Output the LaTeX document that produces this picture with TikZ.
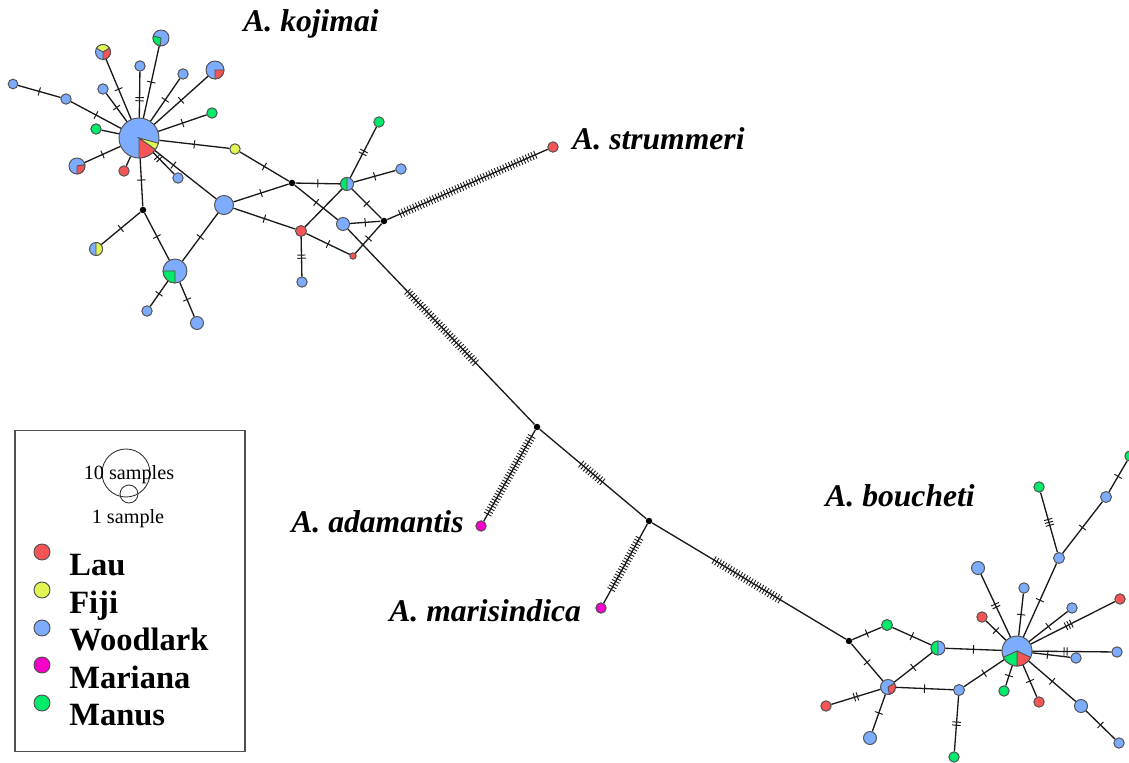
\documentclass[tikz,border=0pt]{standalone}
\usepackage{fontspec}
\setmainfont{Liberation Serif}
\usetikzlibrary{decorations.markings}
\definecolor{laured}{RGB}{245, 85, 85}
\definecolor{fijiyellow}{RGB}{225, 245, 85}
\definecolor{woodblue}{RGB}{125, 172, 255}
\definecolor{marimagenta}{RGB}{245, 0, 200}
\definecolor{manusgreen}{RGB}{0, 235, 105}
\definecolor{edgegray}{RGB}{80, 80, 80}
% pie slice of a haplotype: node, colour, start angle, end angle, radius
\newcommand{\hapslice}[5]{\filldraw[fill=#2, draw=edgegray, line width=0.5pt] (#1.center) -- ++(#3:#5) arc[start angle=#3, end angle=#4, radius=#5] -- cycle;}

\begin{document}
\begin{tikzpicture}[x=0.02cm, y=-0.02cm,
  hap/.style={circle, draw=edgegray, line width=0.55pt, inner sep=0pt, minimum size=#1*0.04cm},
  junc/.style={circle, fill=black, inner sep=0pt, minimum size=0.13cm},
  link/.style={line width=0.75pt, black!90},
  mut/.style={postaction={decorate, decoration={markings, mark=at position #1 with {\draw[line width=0.55pt] (0,-2.4pt) -- (0,2.4pt);}}}},
  mut/.default=0.5,
  mutt/.style={postaction={decorate, decoration={markings, mark=at position #1 with {\draw[line width=0.55pt] (-0.9pt,-2.4pt) -- (-0.9pt,2.4pt) (0.9pt,-2.4pt) -- (0.9pt,2.4pt);}}}},
  mutt/.default=0.5,
  muttt/.style={postaction={decorate, decoration={markings, mark=at position #1 with {\draw[line width=0.55pt] (-1.7pt,-2.4pt) -- (-1.7pt,2.4pt) (0,-2.4pt) -- (0,2.4pt) (1.7pt,-2.4pt) -- (1.7pt,2.4pt);}}}},
  muttt/.default=0.5,
  mutrun/.style 2 args={postaction={decorate, decoration={markings, mark=between positions #1 and #2 step 1.75pt with {\draw[line width=0.5pt] (0,-2.4pt) -- (0,2.4pt);}}}},
  species/.style={font=\fontsize{18}{20}\selectfont\bfseries\itshape, anchor=base west, inner sep=0pt},
  legendtext/.style={font=\fontsize{18.5}{20}\selectfont\bfseries, anchor=base west, inner sep=0pt},
]
\useasboundingbox[fill=white] (0,0) rectangle (1129,763);

% A. kojimai cluster
\node[hap=20, fill=woodblue] (kc) at (139,138) {};
\node[hap=4.8, fill=woodblue] (k1) at (13,84) {};
\node[hap=5.2, fill=woodblue] (k2) at (66,99) {};
\node[hap=7.5, fill=woodblue] (k3) at (103,52) {};
\node[hap=5.2, fill=woodblue] (k4) at (103,89) {};
\node[hap=5.2, fill=woodblue] (k5) at (140,66) {};
\node[hap=8, fill=woodblue] (k6) at (161,38) {};
\node[hap=5.2, fill=woodblue] (k7) at (183,74) {};
\node[hap=9, fill=woodblue] (k8) at (215,70) {};
\node[hap=5.2, fill=manusgreen] (k9) at (212,113) {};
\node[hap=5.2, fill=manusgreen] (k10) at (96,129) {};
\node[hap=5.2, fill=fijiyellow] (k11) at (235,149) {};
\node[hap=8, fill=woodblue] (k12) at (77,166) {};
\node[hap=5.2, fill=laured] (k13) at (124,171) {};
\node[hap=5.2, fill=woodblue] (k14) at (178,178) {};
\node[hap=9.5, fill=woodblue] (kb1) at (224,205) {};
\node[junc] (j1) at (143,210) {};
\node[hap=6.5, fill=woodblue] (k15) at (96,249) {};
\node[hap=12, fill=woodblue] (kb2) at (175,271) {};
\node[hap=5.2, fill=woodblue] (k16) at (147,311) {};
\node[hap=6.5, fill=woodblue] (k17) at (197,323) {};
\node[junc] (j2) at (292,183) {};
\node[hap=5.5, fill=laured] (kr1) at (301,231) {};
\node[hap=6.5, fill=woodblue] (k18) at (347,184) {};
\node[hap=6.5, fill=woodblue] (k19) at (343,224) {};
\node[hap=5.2, fill=woodblue] (k20) at (302,282) {};
\node[hap=3.2, fill=laured] (k21) at (353,256) {};
\node[junc] (j3) at (384,221) {};
\node[hap=5.2, fill=woodblue] (k22) at (401,169) {};
\node[hap=5.2, fill=manusgreen] (k23) at (379,122) {};

\hapslice{kc}{laured}{35}{90}{20}
\hapslice{kc}{fijiyellow}{15}{35}{20}
\hapslice{k3}{fijiyellow}{210}{330}{7.5}
\hapslice{k3}{laured}{330}{450}{7.5}
\hapslice{k6}{manusgreen}{95}{195}{8}
\hapslice{k8}{laured}{0}{90}{9}
\hapslice{k12}{laured}{-10}{90}{8}
\hapslice{k15}{fijiyellow}{-90}{90}{6.5}
\hapslice{kb2}{manusgreen}{90}{180}{12}
\hapslice{k18}{manusgreen}{90}{270}{6.5}

\draw[link, mut] (k1) -- (k2);
\draw[link, mut] (k2) -- (kc);
\draw[link, mut] (k3) -- (kc);
\draw[link, mut] (k4) -- (kc);
\draw[link, mutt=0.6] (k5) -- (kc);
\draw[link, mut] (k6) -- (kc);
\draw[link, mut] (k7) -- (kc);
\draw[link, mut] (k8) -- (kc);
\draw[link, mut] (k9) -- (kc);
\draw[link] (k10) -- (kc);
\draw[link, mut] (k11) -- (kc);
\draw[link, mut] (k12) -- (kc);
\draw[link] (k13) -- (kc);
\draw[link, mutt=0.25] (kc) -- (k14);
\draw[link, mut=0.3] (kc) -- (kb1);
\draw[link, mut=0.45] (kc) -- (j1);
\draw[link, mut] (j1) -- (k15);
\draw[link, mut] (j1) -- (kb2);
\draw[link, mut] (kb2) -- (k16);
\draw[link, mut] (kb2) -- (k17);
\draw[link, mut] (kb2) -- (kb1);
\draw[link, mut] (kb1) -- (j2);
\draw[link, mut] (kb1) -- (kr1);
\draw[link, mut] (k11) -- (j2);
\draw[link, mut] (j2) -- (k18);
\draw[link, mut] (j2) -- (k19);
\draw[link] (kr1) -- (k18);
\draw[link, mutt] (kr1) -- (k20);
\draw[link, mut] (kr1) -- (k21);
\draw[link, mut] (k21) -- (j3);
\draw[link, mut] (k19) -- (j3);
\draw[link, mut] (k18) -- (j3);
\draw[link, mut] (k18) -- (k22);
\draw[link, mutt] (k18) -- (k23);

% outgroups and long branches
\node[hap=5.2, fill=laured] (st) at (553,147) {};
\node[junc] (j4) at (537,427) {};
\node[hap=5.2, fill=marimagenta] (ad) at (481,526) {};
\node[junc] (j5) at (649,521) {};
\node[hap=5.2, fill=marimagenta] (ma) at (601,608) {};
\node[junc] (j6) at (849,641) {};

\draw[link, mutrun={0.08}{0.94}] (j3) -- (st);
\draw[link, mutrun={0.32}{0.69}] (k19) -- (j4);
\draw[link, mutrun={0.07}{0.95}] (j4) -- (ad);
\draw[link, mutrun={0.39}{0.61}] (j4) -- (j5);
\draw[link, mutrun={0.18}{0.84}] (j5) -- (ma);
\draw[link, mutrun={0.32}{0.67}] (j5) -- (j6);

% A. boucheti cluster
\node[hap=15, fill=woodblue] (bc) at (1017,651) {};
\node[hap=5.5, fill=manusgreen] (b1) at (887,625) {};
\node[hap=7, fill=woodblue] (b2) at (938,648) {};
\node[hap=7.5, fill=woodblue] (b3) at (888,687) {};
\node[hap=5.5, fill=woodblue] (b4) at (959,690) {};
\node[hap=5.2, fill=manusgreen] (b5) at (954,757) {};
\node[hap=5.2, fill=laured] (b6) at (826,706) {};
\node[hap=6.5, fill=woodblue] (b7) at (870,738) {};
\node[hap=6.5, fill=woodblue] (b8) at (978,568) {};
\node[hap=5.2, fill=woodblue] (b9) at (1024,588) {};
\node[hap=5.5, fill=woodblue] (b10) at (1059,558) {};
\node[hap=5.2, fill=manusgreen] (b11) at (1039,487) {};
\node[hap=5.5, fill=woodblue] (b12) at (1106,497) {};
\node[hap=5.2, fill=manusgreen] (b13) at (1130,456) {};
\node[hap=5.2, fill=laured] (b14) at (982,617) {};
\node[hap=5.2, fill=woodblue] (b15) at (1072,608) {};
\node[hap=5.2, fill=laured] (b16) at (1120,599) {};
\node[hap=5.2, fill=woodblue] (b17) at (1117,652) {};
\node[hap=5.2, fill=woodblue] (b18) at (1076,658) {};
\node[hap=6.5, fill=woodblue] (b19) at (1081,706) {};
\node[hap=5.2, fill=woodblue] (b20) at (1119,743) {};
\node[hap=5.2, fill=laured] (b21) at (1039,702) {};
\node[hap=5.2, fill=manusgreen] (b22) at (1004,691) {};

\hapslice{bc}{laured}{25}{90}{15}
\hapslice{bc}{manusgreen}{90}{155}{15}
\hapslice{b2}{manusgreen}{90}{270}{7}
\hapslice{b3}{laured}{-30}{80}{7.5}

\draw[link, mut] (j6) -- (b1);
\draw[link, mut] (b1) -- (b2);
\draw[link, mut] (j6) -- (b3);
\draw[link, mut] (b3) -- (b2);
\draw[link, mut] (b2) -- (bc);
\draw[link, mut] (b3) -- (b4);
\draw[link, mut] (b4) -- (bc);
\draw[link, mutt] (b4) -- (b5);
\draw[link, mutt] (b3) -- (b6);
\draw[link, mut] (b3) -- (b7);
\draw[link, mutt] (bc) -- (b8);
\draw[link, mut] (bc) -- (b9);
\draw[link, mut] (bc) -- (b10);
\draw[link, muttt] (b10) -- (b11);
\draw[link, mut] (b10) -- (b12);
\draw[link, mut] (b12) -- (b13);
\draw[link, mut] (bc) -- (b14);
\draw[link, mut] (bc) -- (b15);
\draw[link, muttt=0.45] (bc) -- (b16);
\draw[link, mutt=0.42] (bc) -- (b17);
\draw[link, mut=0.4] (bc) -- (b18);
\draw[link, mut] (bc) -- (b19);
\draw[link, mut] (b19) -- (b20);
\draw[link, mut] (bc) -- (b21);
\draw[link, mut] (bc) -- (b22);

% species labels
\node[species] (lkoj) at (243,32) {A. kojimai};
\node[species] (lstr) at (572,150) {A. strummeri};
\node[species] (lada) at (291,532) {A. adamantis};
\node[species] (lmar) at (389,621) {A. marisindica};
\node[species] (lbou) at (825,506) {A. boucheti};

% legend
\node[draw=edgegray, line width=0.6pt, minimum width=4.6cm, minimum height=6.44cm, inner sep=0pt] (legend) at (130,591) {};
\node[circle, draw=black!80, line width=0.5pt, minimum size=0.96cm, inner sep=0pt] (ten) at (126,473) {};
\node[circle, draw=black!80, line width=0.5pt, minimum size=0.36cm, inner sep=0pt] (one) at (129,494) {};
\node[font=\fontsize{11.5}{13}\selectfont, anchor=base, inner sep=0pt] (tentext) at (129,479) {10 samples};
\node[font=\fontsize{11.5}{13}\selectfont, anchor=base, inner sep=0pt] (onetext) at (128,523) {1 sample};
\node[hap=8, fill=laured] (dlau) at (42,552) {};
\node[hap=8, fill=fijiyellow] (dfiji) at (42,590) {};
\node[hap=8, fill=woodblue] (dwood) at (42,628) {};
\node[hap=8, fill=marimagenta] (dmari) at (42,665) {};
\node[hap=8, fill=manusgreen] (dmanus) at (42,703) {};
\node[legendtext] (tlau) at (69,575) {Lau};
\node[legendtext] (tfiji) at (69,613) {Fiji};
\node[legendtext] (twood) at (69,650) {Woodlark};
\node[legendtext] (tmari) at (69,688) {Mariana};
\node[legendtext] (tmanus) at (69,725) {Manus};
\end{tikzpicture}
\end{document}
